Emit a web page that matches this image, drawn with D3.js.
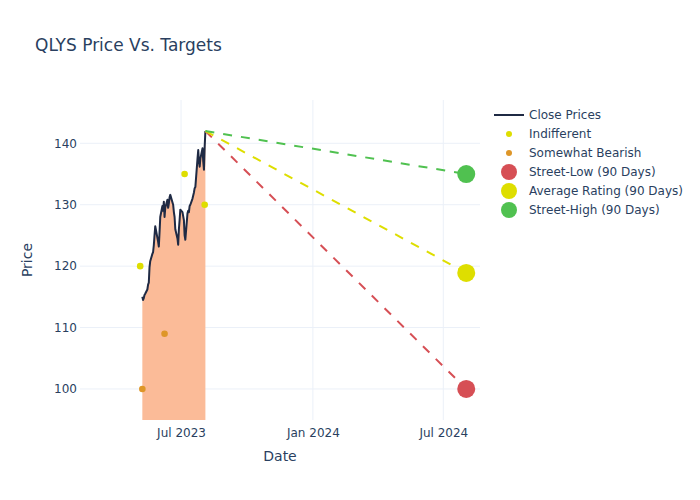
<!DOCTYPE html>
<html>
<head>
<meta charset="utf-8">
<script src="https://cdn.jsdelivr.net/npm/d3@7"></script>
<style>
  html, body { margin: 0; padding: 0; background: #fff; }
  svg { display: block; }
</style>
</head>
<body>
<svg id="chart" width="700" height="500"></svg>
<script>
// ---------- DATA ----------
const priceDates = [
  "2023-05-08","2023-05-09","2023-05-10","2023-05-11","2023-05-12",
  "2023-05-15","2023-05-16","2023-05-17","2023-05-18","2023-05-19",
  "2023-05-22","2023-05-23","2023-05-24","2023-05-25","2023-05-26",
  "2023-05-30","2023-05-31","2023-06-01","2023-06-02",
  "2023-06-05","2023-06-06","2023-06-07","2023-06-08","2023-06-09",
  "2023-06-12","2023-06-13","2023-06-14","2023-06-15","2023-06-16",
  "2023-06-20","2023-06-21","2023-06-22","2023-06-23",
  "2023-06-26","2023-06-27","2023-06-28","2023-06-29","2023-06-30",
  "2023-07-03","2023-07-05","2023-07-06","2023-07-07",
  "2023-07-10","2023-07-11","2023-07-12","2023-07-13","2023-07-14",
  "2023-07-17","2023-07-18","2023-07-19","2023-07-20","2023-07-21",
  "2023-07-24","2023-07-25","2023-07-26","2023-07-27","2023-07-28",
  "2023-07-31","2023-08-01","2023-08-02","2023-08-03","2023-08-04"
];
const closePrices = [
  115.0,114.5,114.8,115.3,115.5,
  116.2,117.0,117.3,119.8,120.8,
  122.0,122.3,123.4,125.0,126.5,
  124.0,123.2,125.5,128.0,
  129.8,129.0,130.5,128.0,129.5,
  130.8,129.5,130.2,131.2,131.6,
  130.0,128.8,128.0,126.0,
  124.5,123.5,126.0,127.5,129.2,
  128.8,127.5,125.0,124.3,
  128.6,129.0,128.8,129.8,130.0,
  131.0,131.5,132.0,132.7,132.9,
  137.5,138.9,137.0,136.2,137.5,
  139.2,137.0,135.7,139.5,142.0
];
const indifferentDates = ["2023-05-05","2023-07-06","2023-08-03"];
const indifferentValues = [120, 135, 130];
const bearishDates = ["2023-05-08","2023-06-08"];
const bearishValues = [100, 109];
const targetDate = "2024-08-02";
const targetLabels = ["Street-Low (90 Days)","Average Rating (90 Days)","Street-High (90 Days)"];
const targetValues = [100, 118.9, 135];
const yTicks = [100, 110, 120, 130, 140];
const xTickDates = ["2023-07-01","2024-01-01","2024-07-01"];
const xTickLabels = ["Jul 2023","Jan 2024","Jul 2024"];

// ---------- STYLE ----------
const FONT = "'DejaVu Sans', Verdana, sans-serif";
const TEXT = "#2a3f5f";
const GRID = "#ebf0f8";
const C_LINE = "#1f2a44";
const C_FILL = "#fbbb98";
const C_IND = "#dede00";
const C_BEAR = "#de9628";
const targetColors = ["#d64f55", "#dede00", "#50c150"];

const parse = d3.timeParse("%Y-%m-%d");
const svg = d3.select("#chart");
const L = 80, R = 480, T = 100, B = 420;

const x = d3.scaleTime()
  .domain([parse("2023-02-10"), new Date(2024, 7, 21, 5)])
  .range([L, R]);
const y = d3.scaleLinear().domain([94.95, 147.05]).range([B, T]);

// clip
svg.append("defs").append("clipPath").attr("id", "clip")
  .append("rect").attr("x", L).attr("y", T).attr("width", R - L).attr("height", B - T);

// grid
const grid = svg.append("g");
grid.selectAll("line.h").data(yTicks).join("line")
  .attr("x1", L).attr("x2", R)
  .attr("y1", d => y(d)).attr("y2", d => y(d))
  .attr("stroke", GRID).attr("stroke-width", 1);
grid.selectAll("line.v").data(xTickDates).join("line")
  .attr("x1", d => x(parse(d))).attr("x2", d => x(parse(d)))
  .attr("y1", T).attr("y2", B)
  .attr("stroke", GRID).attr("stroke-width", 1);

// axes
const yAxis = d3.axisLeft(y).tickValues(yTicks).tickSize(0).tickPadding(3);
const gy = svg.append("g").attr("transform", `translate(${L},0)`).call(yAxis);
const xAxis = d3.axisBottom(x).tickValues(xTickDates.map(parse))
  .tickFormat((d, i) => xTickLabels[i]).tickSize(0).tickPadding(8);
const gx = svg.append("g").attr("transform", `translate(0,${B})`).call(xAxis);
[gx, gy].forEach(g => {
  g.select(".domain").remove();
  g.selectAll("text").attr("fill", TEXT).style("font-family", FONT).style("font-size", "12px");
});

const plot = svg.append("g").attr("clip-path", "url(#clip)");
const priceData = priceDates.map((d, i) => ({ d: parse(d), v: closePrices[i] }));

// area fill
plot.append("path").datum(priceData)
  .attr("d", d3.area().x(p => x(p.d)).y0(B + 5).y1(p => y(p.v)))
  .attr("fill", C_FILL).attr("stroke", "none");

// close line
plot.append("path").datum(priceData)
  .attr("d", d3.line().x(p => x(p.d)).y(p => y(p.v)))
  .attr("fill", "none").attr("stroke", C_LINE).attr("stroke-width", 2)
  .attr("stroke-linejoin", "round");

// analyst dots
plot.selectAll("circle.ind").data(indifferentDates).join("circle")
  .attr("cx", d => x(parse(d))).attr("cy", (d, i) => y(indifferentValues[i]))
  .attr("r", 3.3).attr("fill", C_IND);
plot.selectAll("circle.bear").data(bearishDates).join("circle")
  .attr("cx", d => x(parse(d))).attr("cy", (d, i) => y(bearishValues[i]))
  .attr("r", 3.3).attr("fill", C_BEAR);

// dashed target lines
const last = priceData[priceData.length - 1];
targetValues.forEach((v, i) => {
  plot.append("line")
    .attr("x1", x(last.d)).attr("y1", y(last.v))
    .attr("x2", x(parse(targetDate))).attr("y2", y(v))
    .attr("stroke", targetColors[i]).attr("stroke-width", 2)
    .attr("stroke-dasharray", "9,9");
});
targetValues.forEach((v, i) => {
  svg.append("circle")
    .attr("cx", x(parse(targetDate))).attr("cy", y(v))
    .attr("r", 9).attr("fill", targetColors[i]);
});

// titles
svg.append("text").attr("x", 35).attr("y", 51)
  .attr("fill", TEXT).style("font-family", FONT).style("font-size", "17px")
  .text("QLYS Price Vs. Targets");
svg.append("text").attr("x", (L + R) / 2).attr("y", 461).attr("text-anchor", "middle")
  .attr("fill", TEXT).style("font-family", FONT).style("font-size", "14px").text("Date");
svg.append("text").attr("transform", `translate(32,${(T + B) / 2}) rotate(-90)`)
  .attr("text-anchor", "middle")
  .attr("fill", TEXT).style("font-family", FONT).style("font-size", "14px").text("Price");

// legend
const legendItems = [
  { label: "Close Prices", type: "line", color: C_LINE },
  { label: "Indifferent", type: "dot", color: C_IND, r: 3 },
  { label: "Somewhat Bearish", type: "dot", color: C_BEAR, r: 3 },
  { label: targetLabels[0], type: "dot", color: targetColors[0], r: 8 },
  { label: targetLabels[1], type: "dot", color: targetColors[1], r: 8 },
  { label: targetLabels[2], type: "dot", color: targetColors[2], r: 8 }
];
const lg = svg.append("g");
legendItems.forEach((it, i) => {
  const cy = 115 + i * 19;
  if (it.type === "line") {
    lg.append("line").attr("x1", 494).attr("x2", 524).attr("y1", cy).attr("y2", cy)
      .attr("stroke", it.color).attr("stroke-width", 2);
  } else {
    lg.append("circle").attr("cx", 509).attr("cy", cy).attr("r", it.r).attr("fill", it.color);
  }
  lg.append("text").attr("x", 529).attr("y", cy + 4.3)
    .attr("fill", TEXT).style("font-family", FONT).style("font-size", "12px").text(it.label);
});
</script>
</body>
</html>
